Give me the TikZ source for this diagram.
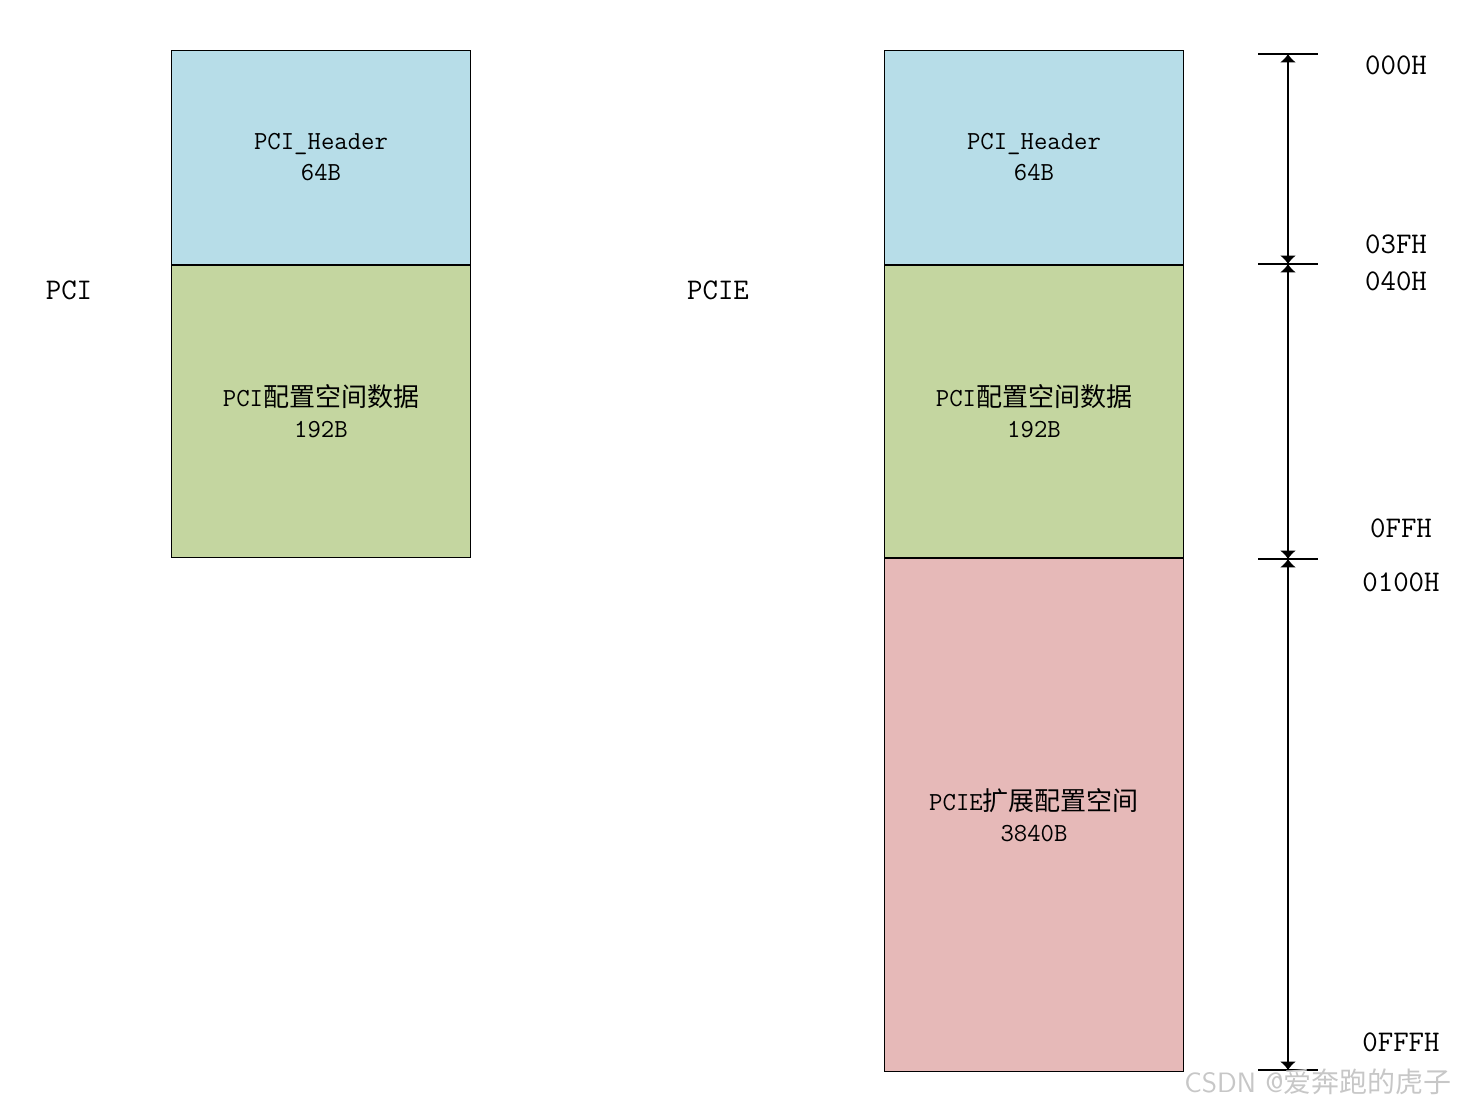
\documentclass[tikz,border=0pt]{standalone}
\usepackage{fontspec}
\newfontfamily\cjk{Noto Sans CJK SC}
\usetikzlibrary{positioning,arrows.meta}
\definecolor{hdrblue}{HTML}{B7DDE8}
\definecolor{cfggreen}{HTML}{C4D6A0}
\definecolor{extpink}{HTML}{E6B9B8}
\begin{document}
\begin{tikzpicture}[x=0.5pt, y=-0.5pt, font=\ttfamily\fontsize{13pt}{15.5pt}\selectfont, >={Latex[length=4.2pt,width=8pt]},
          blk/.style={draw, line width=0.5pt, align=center, anchor=north west, minimum width=149.5pt, inner sep=0pt},
          hdr/.style={blk, fill=hdrblue, minimum height=107pt},
          cfg/.style={blk, fill=cfggreen, minimum height=146pt},
          ext/.style={blk, fill=extpink, minimum height=256.5pt},
          addr/.style={font=\ttfamily\fontsize{15pt}{17pt}\selectfont},
          tick/.style={line width=0.6pt}, dim/.style={<->, line width=0.7pt}]
        \useasboundingbox (0,0) rectangle (1461,1109);
        % PCI
        \node[hdr] (pcihdr) at (171,50) {PCI\_Header\\64B};
        \node[cfg] (pcicfg) at (pcihdr.south west) {PCI{\cjk 配置空间数据}\\192B};
        \node[addr] (pcilbl) at (69,290) {PCI};
        % PCIE
        \node[hdr] (pciehdr) at (884,50) {PCI\_Header\\64B};
        \node[cfg] (pciecfg) at (pciehdr.south west) {PCI{\cjk 配置空间数据}\\192B};
        \node[ext] (pcieext) at (pciecfg.south west) {PCIE{\cjk 扩展配置空间}\\3840B};
        \node[addr] (pcielbl) at (718,290) {PCIE};
        % address scale
        \coordinate (a0) at (1288,54);
        \coordinate (a1) at (1288,264);
        \coordinate (a2) at (1288,559);
        \coordinate (a3) at (1288,1070);
        \foreach \a in {a0,a1,a2,a3}
          \draw[tick] ([xshift=-15pt]\a) -- ([xshift=15pt]\a);
        \draw[dim] (a0) -- (a1);
        \draw[dim] (a1) -- (a2);
        \draw[dim] (a2) -- (a3);
        \node[addr] (h000) at (1396,65) {000H};
        \node[addr] (h03f) at (1396,244) {03FH};
        \node[addr] (h040) at (1396,281) {040H};
        \node[addr] (h0ff) at (1401,528) {0FFH};
        \node[addr] (h100) at (1401,582) {0100H};
        \node[addr] (hfff) at (1401,1042) {0FFFH};
        % watermark
        \node[font=\sffamily\fontsize{14pt}{16pt}\selectfont, text=black!22] (mark) at (1318,1082) {CSDN @{\cjk 爱奔跑的虎子}};
      \end{tikzpicture}
\end{document}
